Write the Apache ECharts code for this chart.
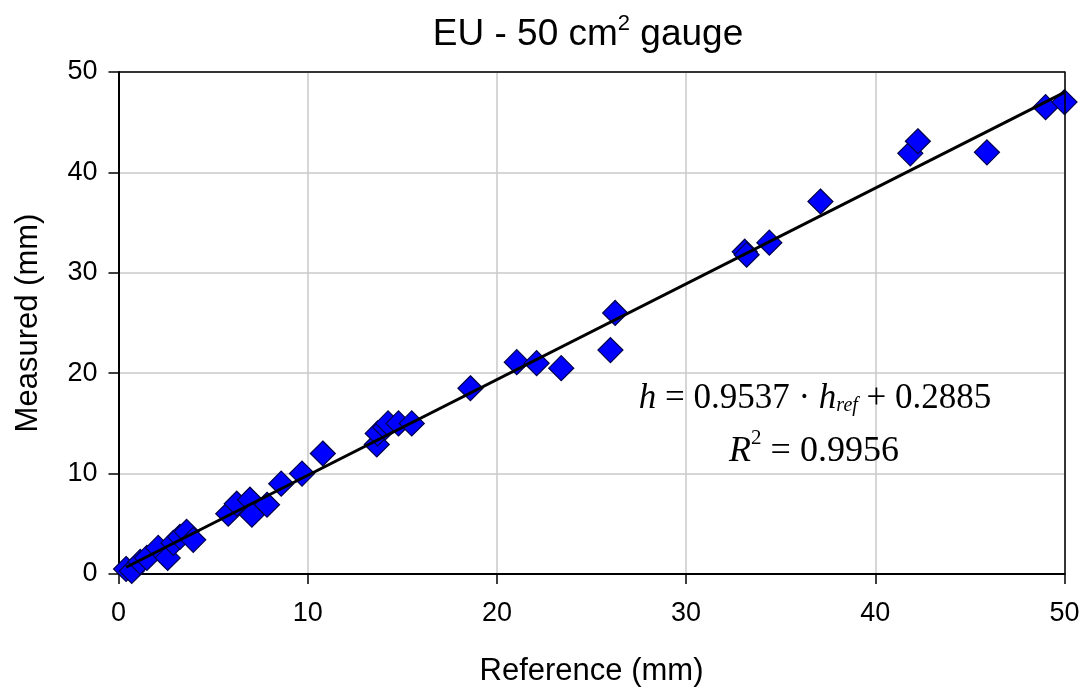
<!DOCTYPE html>
<html>
<head>
<meta charset="utf-8">
<script src="https://cdn.jsdelivr.net/npm/echarts@6/dist/echarts.min.js"></script>
<style>html,body{margin:0;padding:0;background:#fff}#c{width:1086px;height:688px}</style>
</head>
<body>
<div id="c"></div>
<script>
// Reference (mm) values
const refX = [0.4, 0.7, 1.15, 1.5, 2.1, 2.6, 2.9, 3.25, 3.6, 3.95, 5.8, 6.25, 6.95, 7.05, 7.85, 8.6, 9.7, 10.8,
  13.65, 13.7, 14.1, 14.25, 14.8, 15.5, 18.6, 21.05, 22.1, 23.4, 26.0, 26.25, 33.1, 33.2, 34.4, 37.1, 41.85, 42.25, 45.9, 49.0, 50.0];
// Measured (mm) values
const measY = [0.5, 0.3, 1.2, 1.6, 2.6, 1.6, 3.1, 3.7, 4.2, 3.4, 6.0, 7.0, 7.4, 5.9, 6.9, 9.0, 10.0, 12.0,
  12.9, 14.0, 14.6, 15.0, 15.0, 15.0, 18.5, 21.1, 21.0, 20.5, 22.3, 26.0, 32.1, 31.8, 33.0, 37.1, 41.9, 43.1, 42.0, 46.5, 47.0];
const xTicks = [0, 10, 20, 30, 40, 50];
const yTicks = [0, 10, 20, 30, 40, 50];
const slope = 0.9537, intercept = 0.2885;

const pts = refX.map((x, i) => [x, measY[i]]);
const xmin = Math.min(...refX), xmax = Math.max(...refX);
const fit = [[xmin, slope * xmin + intercept], [xmax, slope * xmax + intercept]];

const chart = echarts.init(document.getElementById('c'));
const font = 'Liberation Sans, Arial, sans-serif';
const serif = 'Liberation Serif, Times New Roman, serif';
const frameAxis = {
  type: 'value', min: 0, max: 50, interval: 10, z: 10,
  axisLine: { show: true, onZero: false, lineStyle: { color: '#000', width: 1.5 } },
  axisTick: { show: false }, axisLabel: { show: false }, splitLine: { show: false }
};
chart.setOption({
  animation: false,
  backgroundColor: '#fff',
  title: {
    text: '{a|EU - 50 cm}{s|2}{a| gauge}',
    left: 583, top: 8, textAlign: 'center',
    textStyle: {
      fontWeight: 'normal',
      rich: {
        a: { fontFamily: font, fontSize: 37, fontWeight: 'normal', color: '#000', lineHeight: 40, verticalAlign: 'bottom' },
        s: { fontFamily: font, fontSize: 22, fontWeight: 'normal', color: '#000', lineHeight: 40, verticalAlign: 'top', padding: [0, 0, 16, 0] }
      }
    }
  },
  grid: { left: 118.5, right: 21.5, top: 72, bottom: 114, containLabel: false, outerBoundsMode: 'none' },
  xAxis: [{
    type: 'value', min: 0, max: 50, interval: 10, position: 'bottom',
    name: 'Reference (mm)', nameLocation: 'middle', nameGap: 82,
    nameTextStyle: { fontFamily: font, fontSize: 31, color: '#000' },
    axisLine: { onZero: false, lineStyle: { color: '#000', width: 2 } },
    axisTick: { show: true, length: 10, lineStyle: { color: '#000', width: 1.5 } },
    axisLabel: { fontFamily: font, fontSize: 27, color: '#000', margin: 26,
      formatter: v => xTicks.includes(v) ? String(v) : '' },
    splitLine: { show: true, lineStyle: { color: '#c8c8c8', width: 1.5 } }
  }, Object.assign({ position: 'top' }, frameAxis)],
  yAxis: [{
    type: 'value', min: 0, max: 50, interval: 10, position: 'left',
    name: 'Measured (mm)', nameLocation: 'middle', nameGap: 75, nameRotate: 90,
    nameTextStyle: { fontFamily: font, fontSize: 31, color: '#000' },
    axisLine: { show: true, onZero: false, lineStyle: { color: '#000', width: 2 } },
    axisTick: { show: true, length: 10, lineStyle: { color: '#000', width: 1.5 } },
    axisLabel: { fontFamily: font, fontSize: 27, color: '#000', margin: 21,
      formatter: v => yTicks.includes(v) ? String(v) : '' },
    splitLine: { show: true, lineStyle: { color: '#c8c8c8', width: 1.5 } }
  }, Object.assign({ position: 'right' }, frameAxis)],
  series: [
    {
      type: 'scatter', data: pts, symbol: 'diamond', symbolSize: 25,
      itemStyle: { color: '#0000ff', borderColor: '#00004a', borderWidth: 1.2, opacity: 1 },
      z: 3
    },
    {
      type: 'line', data: fit, showSymbol: false, symbol: 'none',
      lineStyle: { color: '#000', width: 3 }, z: 4
    }
  ],
  graphic: [
    {
      type: 'text', x: 815, y: 395, z: 10,
      style: {
        text: '{i|h}{n| = 0.9537 · }{i|h}{sub|ref}{n| + 0.2885}',
        align: 'center', verticalAlign: 'middle',
        rich: {
          i: { fontFamily: serif, fontStyle: 'italic', fontSize: 35, fill: '#000', lineHeight: 42, verticalAlign: 'bottom' },
          n: { fontFamily: serif, fontSize: 35, fill: '#000', lineHeight: 42, verticalAlign: 'bottom' },
          sub: { fontFamily: serif, fontStyle: 'italic', fontSize: 20, fill: '#000', lineHeight: 42, verticalAlign: 'bottom' }
        }
      }
    },
    {
      type: 'text', x: 814, y: 449, z: 10,
      style: {
        text: '{i|R}{s|2}{n| = 0.9956}',
        align: 'center', verticalAlign: 'middle',
        rich: {
          i: { fontFamily: serif, fontStyle: 'italic', fontSize: 36, fill: '#000', lineHeight: 42, verticalAlign: 'bottom' },
          s: { fontFamily: serif, fontSize: 21, fill: '#000', lineHeight: 42, verticalAlign: 'top', padding: [0, 0, 18, 0] },
          n: { fontFamily: serif, fontSize: 36, fill: '#000', lineHeight: 42, verticalAlign: 'bottom' }
        }
      }
    }
  ]
});
</script>
</body>
</html>
